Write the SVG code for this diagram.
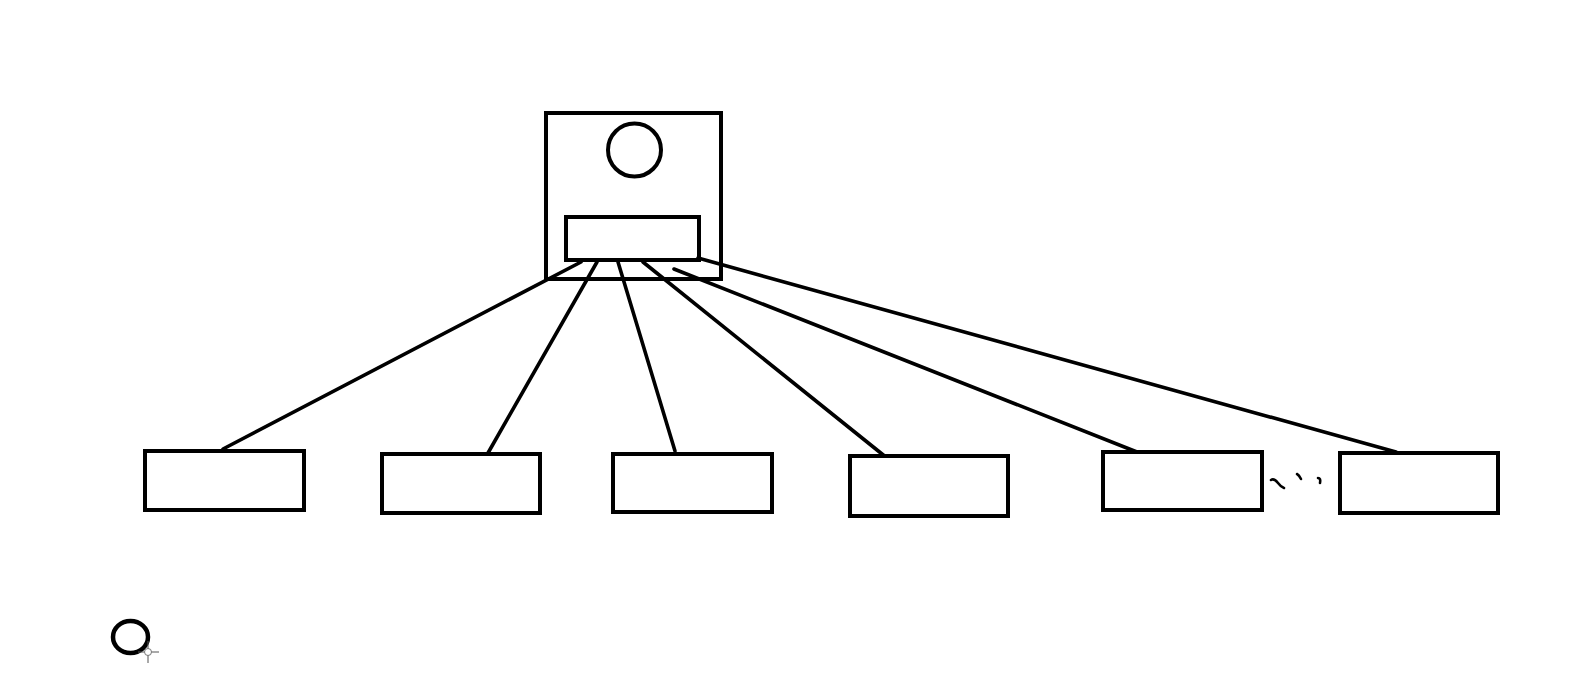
<svg xmlns="http://www.w3.org/2000/svg" width="1592" height="688" viewBox="0 0 1592 688">
<style>
.box{fill:#fff;stroke:#000;stroke-width:4}
.ln{stroke:#000;stroke-width:3.6;stroke-linecap:round;fill:none}
.mk{stroke:#000;stroke-width:2.6;stroke-linecap:round;fill:none}
</style>
<rect width="1592" height="688" fill="#fff"/>
<g id="root">
<rect class="box" x="546" y="113" width="175" height="166"/>
<circle class="box" cx="634.5" cy="150" r="26.5"/>
<rect class="box" x="566" y="217" width="133" height="43"/>
</g>
<g id="connectors">
<line class="ln" x1="581" y1="262" x2="223" y2="449"/>
<line class="ln" x1="597" y1="262" x2="488" y2="453"/>
<line class="ln" x1="618" y1="262" x2="675" y2="451"/>
<line class="ln" x1="643" y1="262" x2="887" y2="458"/>
<line class="ln" x1="674" y1="269" x2="1137" y2="452"/>
<line class="ln" x1="698" y1="258" x2="1396" y2="452"/>
</g>
<g id="child1"><rect class="box" x="145" y="451" width="159" height="59"/></g>
<g id="child2"><rect class="box" x="382" y="454" width="158" height="59"/></g>
<g id="child3"><rect class="box" x="613" y="454" width="159" height="58"/></g>
<g id="child4"><rect class="box" x="850" y="456" width="158" height="60"/></g>
<g id="child5"><rect class="box" x="1103" y="452" width="159" height="58"/></g>
<g id="child6"><rect class="box" x="1340" y="453" width="158" height="60"/></g>
<g id="ellipsis">
<path class="mk" d="M1271,480 Q1274,478 1278,483 Q1281,487 1284,488"/>
<path class="mk" d="M1297,474 Q1299,475 1301,479"/>
<path class="mk" d="M1318,478 Q1321,478 1320,483"/>
</g>
<g id="small-circle">
<ellipse cx="130.5" cy="637" rx="17.5" ry="16" fill="none" stroke="#000" stroke-width="4.5"/>
<g stroke="#555" stroke-width="1">
<line x1="138" y1="652" x2="159" y2="652"/>
<line x1="148" y1="641" x2="148" y2="663"/>
</g>
<circle cx="148" cy="652" r="3.5" fill="#fff" stroke="#777" stroke-width="1"/>
</g>
</svg>
